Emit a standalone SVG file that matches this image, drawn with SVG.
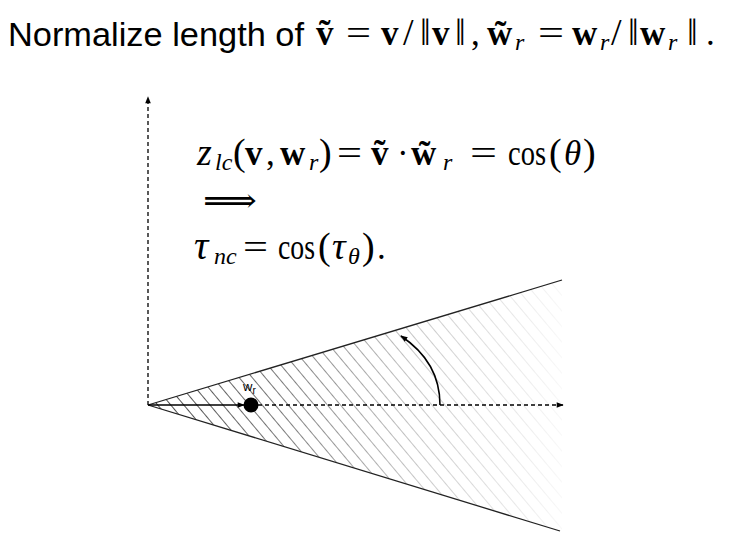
<svg xmlns="http://www.w3.org/2000/svg" width="734" height="542" viewBox="0 0 734 542">
<style>
.sans{font-family:"Liberation Sans",Arial,sans-serif;fill:#000}
.ser{font-family:"Liberation Serif","DejaVu Serif",serif;fill:#000}
.b{font-weight:bold}
.i{font-style:italic}
.sub{font-size:24px;font-style:italic}
.big{font-size:38px}
.axis{stroke:#000;stroke-width:1.3;stroke-dasharray:4 3;fill:none}
.edge{stroke:#222;stroke-width:1.3;fill:none}
</style>
<defs>
<marker id="ah" viewBox="0 0 10 10" refX="9" refY="5" markerWidth="8" markerHeight="7" markerUnits="userSpaceOnUse" orient="auto">
<path d="M0,1 L10,5 L0,9 z" fill="#000"/>
</marker>
<pattern id="hatch" patternUnits="userSpaceOnUse" width="10" height="10" patternTransform="rotate(-40)">
<line x1="0" y1="-1" x2="0" y2="11" stroke="#3a3a3a" stroke-width="2"/>
</pattern>
<linearGradient id="fade" gradientUnits="userSpaceOnUse" x1="148" y1="0" x2="565" y2="0">
<stop offset="0" stop-color="#fff" stop-opacity="0.05"/>
<stop offset="0.3" stop-color="#fff" stop-opacity="0.3"/>
<stop offset="0.65" stop-color="#fff" stop-opacity="0.72"/>
<stop offset="1" stop-color="#fff" stop-opacity="0.97"/>
</linearGradient>
</defs>
<rect width="734" height="542" fill="#fff"/>

<g id="title">
<text class="sans" x="8" y="46" font-size="33" textLength="296" lengthAdjust="spacingAndGlyphs">Normalize length of</text>
<text class="ser" font-size="35" y="45"><tspan class="b" x="316">ṽ</tspan><tspan x="346" textLength="25" lengthAdjust="spacingAndGlyphs">=</tspan><tspan class="b" x="381">v</tspan><tspan class="big" x="403">/</tspan><tspan class="big" x="420">‖</tspan><tspan class="b" x="432">v</tspan><tspan class="big" x="455">‖</tspan><tspan x="471">,</tspan><tspan class="b" x="487">w̃</tspan><tspan class="sub" x="515" y="50">r</tspan><tspan x="538" y="45" textLength="26" lengthAdjust="spacingAndGlyphs">=</tspan><tspan class="b" x="572">w</tspan><tspan class="sub" x="600" y="50">r</tspan><tspan class="big" x="611" y="45">/</tspan><tspan class="big" x="628">‖</tspan><tspan class="b" x="640">w</tspan><tspan class="sub" x="668" y="50">r</tspan><tspan class="big" x="687" y="45">‖</tspan><tspan x="706">.</tspan></text>
</g>

<g id="cone">
<path d="M148,405 L562,280 L562,531 Z" fill="url(#hatch)"/>
<path d="M148,405 L563,279 L563,532 Z" fill="url(#fade)"/>
<line class="edge" x1="148" y1="405" x2="562" y2="280"/>
<line class="edge" x1="148" y1="405" x2="560" y2="531"/>
</g>

<g id="connectors">
<line class="axis" x1="148" y1="405" x2="148" y2="97" marker-end="url(#ah)"/>
<line class="axis" x1="258" y1="405" x2="563" y2="405" marker-end="url(#ah)"/>
<line x1="148" y1="405" x2="244" y2="405" stroke="#000" stroke-width="1.5" marker-end="url(#ah)"/>
<path d="M440,405 C440,378 428,354 401,336" stroke="#000" stroke-width="1.6" fill="none" marker-end="url(#ah)"/>
</g>

<g id="wr">
<circle cx="251" cy="405" r="7.5" fill="#000"/>
<text class="sans" x="243" y="391" font-size="13">w<tspan font-size="10" dy="3">r</tspan></text>
</g>

<g id="equations">
<text class="ser" font-size="35" y="165"><tspan class="i" x="197" font-size="38">z</tspan><tspan class="sub" x="215" y="170">lc</tspan><tspan class="big" x="233" y="165">(</tspan><tspan class="b" x="245">v</tspan><tspan x="266">,</tspan><tspan class="b" x="280">w</tspan><tspan class="sub" x="309" y="170">r</tspan><tspan class="big" x="319" y="165">)</tspan><tspan x="337" textLength="25" lengthAdjust="spacingAndGlyphs">=</tspan><tspan class="b" x="371">ṽ</tspan><tspan x="397">·</tspan><tspan class="b" x="411">w̃</tspan><tspan class="sub" x="443" y="170">r</tspan><tspan x="470" y="165" textLength="27" lengthAdjust="spacingAndGlyphs">=</tspan><tspan x="508" textLength="38" lengthAdjust="spacingAndGlyphs">cos</tspan><tspan class="big" x="549">(</tspan><tspan class="i" x="564">θ</tspan><tspan class="big" x="583">)</tspan></text>
<text class="ser" x="203" y="212" font-size="34" textLength="54" lengthAdjust="spacingAndGlyphs">⟹</text>
<text class="ser" font-size="35" y="259"><tspan class="i" x="194" font-size="40">τ</tspan><tspan class="sub" x="214" y="264">nc</tspan><tspan x="243" y="259" textLength="25" lengthAdjust="spacingAndGlyphs">=</tspan><tspan x="278" textLength="37" lengthAdjust="spacingAndGlyphs">cos</tspan><tspan class="big" x="318">(</tspan><tspan class="i" x="332" font-size="38">τ</tspan><tspan class="sub" x="348" y="264">θ</tspan><tspan class="big" x="362" y="259">)</tspan><tspan x="377">.</tspan></text>
</g>
</svg>
